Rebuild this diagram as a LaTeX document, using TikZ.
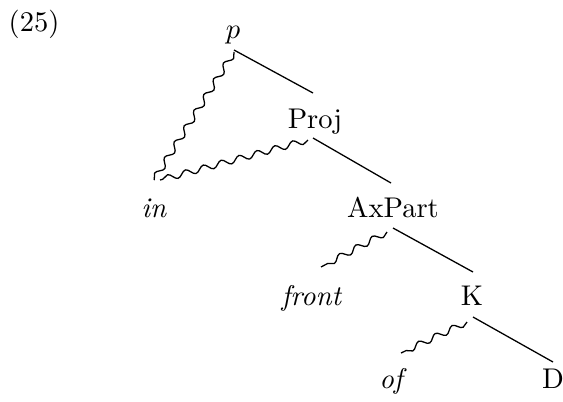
\documentclass[tikz,border=0pt]{standalone}
\usetikzlibrary{calc,decorations.pathmorphing}
\begin{document}
\begin{tikzpicture}[x=0.3509pt,y=-0.3509pt,
  lbl/.style={anchor=base,inner sep=0pt,font=\fontsize{10}{12}\selectfont},
  branch/.style={line width=0.45pt},
  wavy/.style={line width=0.45pt,decorate,
    decoration={snake,amplitude=1.1pt,segment length=6.5pt}}]
\useasboundingbox (0,0) rectangle (563,401);

% example number
\node[lbl] (ex) at (34,31) {(25)};

% tree labels
\node[lbl] (p)      at (233,38)  {$p$};
\node[lbl] (Proj)   at (315,128) {Proj};
\node[lbl] (in)     at (154,217) {\textit{in}};
\node[lbl] (AxPart) at (393,217) {AxPart};
\node[lbl] (front)  at (312,305) {\textit{front}};
\node[lbl] (K)      at (472,305) {K};
\node[lbl] (of)     at (393,388) {\textit{of}};
\node[lbl] (D)      at (553,388) {D};

% straight branches
\draw[branch] ($(p.base)+(1,12)$)      -- ($(Proj.base)+(-2,-35)$);
\draw[branch] ($(Proj.base)+(-2,10)$)  -- ($(AxPart.base)+(-2,-34)$);
\draw[branch] ($(AxPart.base)+(0,11)$) -- ($(K.base)+(1,-33)$);
\draw[branch] ($(K.base)+(1,12)$)      -- ($(D.base)+(0,-26)$);

% wavy branches
\draw[wavy] ($(p.base)+(1,14)$)       -- ($(in.base)+(0,-37)$);
\draw[wavy] ($(Proj.base)+(-7,12)$)   -- ($(in.base)+(6,-37)$);
\draw[wavy] ($(AxPart.base)+(-6,15)$) -- ($(front.base)+(9,-38)$);
\draw[wavy] ($(K.base)+(-5,17)$)      -- ($(of.base)+(8,-35)$);
\end{tikzpicture}
\end{document}
